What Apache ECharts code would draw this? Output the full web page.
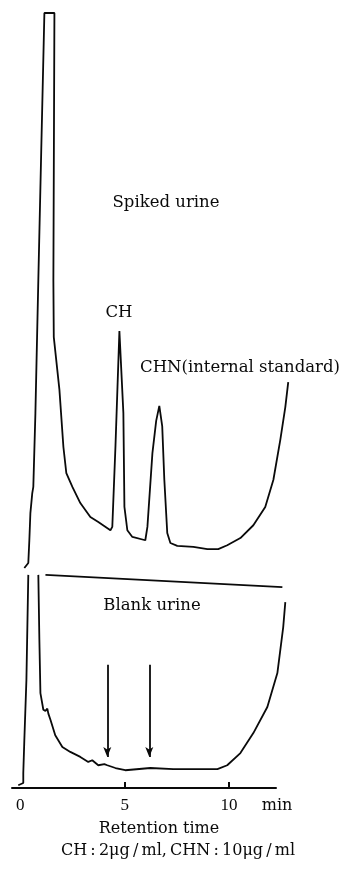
<!DOCTYPE html>
<html><head><meta charset="utf-8">
<script src="https://cdn.jsdelivr.net/npm/echarts@6/dist/echarts.min.js"></script>
<style>html,body{margin:0;padding:0;background:#fff}#c{width:346px;height:873px}</style>
</head><body><div id="c"></div>
<script>
// Retention time (min) and detector response (arbitrary units)
const spikedTime   = [0.19,0.38,0.43,0.48,0.57,0.62,0.72,0.86,1.00,1.15,1.39,1.63,1.58,1.60,1.87,2.06,2.20,2.49,2.87,3.35,3.73,4.31,4.40,4.55,4.74,4.93,4.98,5.12,5.36,5.98,6.08,6.32,6.50,6.65,6.79,6.89,7.03,7.18,7.51,8.28,8.95,9.47,9.90,10.53,11.15,11.72,12.11,12.44,12.68,12.82];
const spikedSignal = [0,0.9,5.0,9.9,13.5,14.6,27.9,51.9,75.3,100,100,100,51.9,41.6,32.1,21.8,17.1,14.6,11.7,9.2,8.3,6.8,7.4,21.8,42.7,27.9,11.0,6.8,5.6,5.0,7.4,20.7,26.5,29.2,25.5,15.9,6.3,4.5,4.0,3.8,3.4,3.4,4.1,5.4,7.7,11.0,15.9,23.1,29.0,33.5];
const blankTime    = [-0.10,0.14,0.14,0.19,0.29,0.38,0.60,0.86,0.91,0.96,1.10,1.20,1.29,1.34,1.44,1.67,2.01,2.39,2.87,3.25,3.44,3.73,4.02,4.16,4.55,5.02,6.22,7.32,9.43,9.90,10.53,11.15,11.82,12.30,12.58,12.68];
const blankSignal  = [0.5,0.9,2.7,8.6,19.5,38.4,null,38.4,26.7,17.1,14.1,13.9,14.3,13.4,12.3,9.5,7.4,6.5,5.6,4.7,5.0,4.1,4.3,4.1,3.6,3.2,3.6,3.4,3.4,4.1,6.3,9.9,14.6,20.7,29.0,33.5];
const penLineTime   = [1.20, 12.54];
const penLineSignal = [38.4, 36.2];
const arrowTimes = [4.16, 6.17];
const arrowFrom = [22.2, 22.2];
const arrowTo = [5.6, 5.6];
const tickLabelValues = [0, 5, 10];
const tickMarkValues = [5, 10];

const FONT = '"DejaVu Serif", "Liberation Serif", serif';
const NUMFONT = '"Liberation Serif", serif';
const pair = (xs, ys) => xs.map((x, i) => [x, ys[i] === null ? '-' : ys[i]]);
const lineStyle = {color: '#0a0a0a', width: 1.8};
const txt = (text, x, y, size) => ({type: 'text', x: x, y: y, silent: true,
  style: {text: text, font: size + 'px ' + FONT, fill: '#0a0a0a', align: 'center', verticalAlign: 'middle'}});

const chart = echarts.init(document.getElementById('c'), null, {renderer: 'canvas'});
chart.setOption({
  animation: false,
  backgroundColor: '#fff',
  grid: [
    {left: 12, width: 280, top: 13, height: 555},
    {left: 12, width: 280, top: 566, height: 222},
    {left: 12, width: 264, top: 566, height: 222}
  ],
  xAxis: [
    {gridIndex: 0, type: 'value', min: -0.4, max: 13.0, show: false},
    {gridIndex: 1, type: 'value', min: -0.4, max: 13.0, show: false},
    {gridIndex: 2, type: 'value', min: -0.4, max: 12.25,
     splitLine: {show: false},
     axisLine: {show: true, onZero: false, lineStyle: {color: '#0a0a0a', width: 2}},
     axisTick: {show: true, inside: true, length: 6, customValues: tickMarkValues, lineStyle: {color: '#0a0a0a', width: 2}},
     axisLabel: {show: true, customValues: tickLabelValues, margin: 9, color: '#0a0a0a', fontFamily: NUMFONT, fontSize: 17}
    }
  ],
  yAxis: [
    {gridIndex: 0, type: 'value', min: 0, max: 100, show: false},
    {gridIndex: 1, type: 'value', min: 0, max: 40, show: false},
    {gridIndex: 2, type: 'value', min: 0, max: 40, show: false}
  ],
  series: [
    {name: 'Spiked urine', type: 'line', xAxisIndex: 0, yAxisIndex: 0, data: pair(spikedTime, spikedSignal),
     showSymbol: false, symbol: 'none', smooth: false, lineStyle: lineStyle, clip: false},
    {name: 'Blank urine', type: 'line', xAxisIndex: 1, yAxisIndex: 1, data: pair(blankTime, blankSignal),
     showSymbol: false, symbol: 'none', connectNulls: false, lineStyle: lineStyle, clip: false,
     markLine: {silent: true, symbol: ['none', 'arrow'], symbolSize: [6, 10], precision: 2,
       lineStyle: {color: '#0a0a0a', width: 1.8, type: 'solid'}, label: {show: false},
       data: arrowTimes.map((t, i) => [{coord: [t, arrowFrom[i]]}, {coord: [t, arrowTo[i]]}])}},
    {name: 'Blank pen', type: 'line', xAxisIndex: 1, yAxisIndex: 1, data: pair(penLineTime, penLineSignal),
     showSymbol: false, symbol: 'none', lineStyle: lineStyle, clip: false}
  ],
  graphic: [
    txt('Spiked urine', 166, 203, 16.5),
    txt('CH', 119, 313, 16.5),
    txt('CHN(internal standard)', 240, 368, 16.5),
    txt('Blank urine', 152, 606, 16.5),
    txt('min', 277, 806, 16),
    txt('Retention time', 159, 829, 16),
    txt('CH\u2009:\u20092μg\u2009/\u2009ml,\u2009CHN\u2009:\u200910μg\u2009/\u2009ml', 178, 851, 16)
  ]
});
</script></body></html>
